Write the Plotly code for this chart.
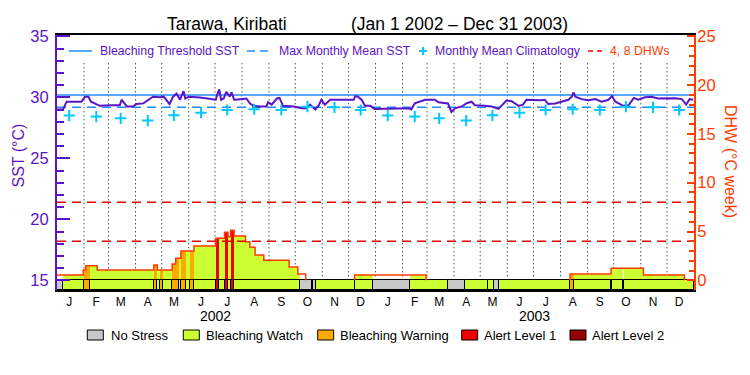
import pandas as pd
import plotly.graph_objects as go

START = pd.Timestamp("2002-01-01")
END = pd.Timestamp("2004-01-01")

# ---------------- data ----------------
# SST (degC): day offset from 2002-01-01 and value
sst_day = [0, 7, 11, 28, 32, 36, 39, 45, 49, 61, 72, 74, 80, 87, 91, 99, 105, 110, 118, 122,
           124, 129, 133, 137, 141, 145, 147, 151, 164, 179, 182, 184, 186, 188, 191, 194, 198, 200, 203, 210,
           217, 221, 225, 233, 240, 242, 246, 252, 255, 259, 271, 280, 286, 290, 296, 300, 303, 307, 313, 340,
           342, 345, 349, 353, 359, 364, 403, 406, 410, 422, 433, 437, 448, 452, 456, 464, 469, 475, 479, 490,
           498, 506, 511, 515, 521, 529, 534, 538, 555, 559, 563, 571, 578, 586, 590, 592, 594, 601, 609, 617,
           624, 632, 636, 640, 649, 655, 661, 666, 674, 681, 689, 697, 708, 716, 721, 725, 729]
sst_val = [29.0, 29.0, 29.64, 29.64, 30.05, 30.05, 29.64, 29.45, 29.3, 29.35, 29.35, 29.8, 29.25, 29.25, 29.45, 29.5, 29.8, 30.05, 30.0, 30.05,
           29.9, 29.45, 30.05, 30.3, 29.8, 30.5, 29.9, 30.05, 29.98, 29.85, 29.8, 30.3, 30.65, 29.8, 29.9, 30.45, 30.05, 30.4, 29.8, 29.85,
           29.9, 29.5, 29.3, 29.25, 29.25, 29.6, 29.4, 29.9, 29.95, 29.3, 29.25, 29.1, 29.1, 29.4, 29.0, 29.35, 29.8, 29.4, 29.8, 29.8,
           30.1, 30.05, 29.8, 29.3, 29.3, 29.05, 29.1, 29.0, 29.5, 29.8, 29.8, 29.6, 29.5, 28.8, 29.1, 29.25, 29.5, 29.64, 29.35, 29.3,
           29.25, 29.05, 29.4, 29.73, 29.68, 29.3, 29.4, 29.8, 29.75, 29.8, 29.45, 29.5, 29.64, 29.8, 30.05, 30.4, 30.05, 29.85, 29.75, 29.85,
           29.64, 29.8, 30.1, 29.64, 29.3, 29.35, 29.95, 29.8, 30.0, 30.05, 29.9, 29.92, 29.92, 29.85, 29.4, 29.85, 29.8]

# Monthly mean climatology (degC), Jan..Dec (same each year)
clim_val = [28.50, 28.42, 28.28, 28.09, 28.52, 28.74, 28.96, 29.02, 28.96, 29.23, 29.18, 28.96]
MMM = 29.18          # maximum monthly mean SST
THRESHOLD = 30.18    # bleaching threshold SST
DHW_MARKS = [4, 8]   # reference DHW levels

# Degree heating weeks: step changes (day offset where value begins)
dhw_day = [0, 30, 33, 46, 111, 115, 132, 136, 142, 157, 182, 192, 196, 199, 203, 216, 221, 227,
           237, 266, 276, 285, 341, 423, 588, 635, 672, 719]
dhw_val = [0.54, 1.05, 1.5, 1.05, 1.56, 1.05, 1.67, 2.25, 3.0, 3.51, 4.3, 4.92, 4.47, 5.12, 4.54, 3.96, 3.38, 2.59,
           2.05, 1.36, 0.65, 0.0, 0.54, 0.0, 0.65, 1.23, 0.54, 0.0]

# Stress level segments (day offset where level begins)
# -1 no data, 0 no stress, 1 watch, 2 warning, 3 alert 1, 4 alert 2
stress_day = [0, 7, 31, 38, 111, 115, 118, 122, 132, 140, 142, 148, 152, 157, 182, 186, 192, 196, 199, 203,
              278, 292, 293, 297, 341, 362, 404, 448, 467, 494, 501, 507, 588, 593, 635, 636, 649, 650]
stress_lvl = [0, 1, 2, 1, 2, 1, 2, 1, 2, 1, 2, 1, 2, 1, 3, 1, 3, 1, 3, 1,
              0, 1, 0, 1, 1, 0, 1, 0, 1, 1, 0, 1, 2, 1, 1, 1, -1, 1]

month_letters = ["J", "F", "M", "A", "M", "J", "J", "A", "S", "O", "N", "D"]
years = [2002, 2003]
stress_names = ["No Stress", "Bleaching Watch", "Bleaching Warning", "Alert Level 1", "Alert Level 2"]

# ---------------- styling ----------------
FONT = "Liberation Sans, Arial, sans-serif"
PURPLE = "#5a14c8"
ORANGE = "#ff3c00"
BLUE = "#1e8cff"
CYAN = "#00c8ff"
RED = "#e60000"
LEVEL_COLORS = {-1: "white", 0: "#c8c8c8", 1: "#ccff33", 2: "#ffaa00", 3: "#f00000", 4: "#960000"}

NDAYS = (END - START).days
Y1MIN, Y1MAX = 14.205, 35.107
Y2MIN, Y2MAX = (Y1MIN - 15) * 1.25, (Y1MAX - 15) * 1.25
MS_DAY = 86400000


def d2t(d):
    return START + pd.Timedelta(days=float(d))


fig = go.Figure()

# dotted month separators
xs, ys = [], []
for m in pd.date_range("2002-02-01", "2003-12-01", freq="MS"):
    xs += [m, m, None]
    ys += [15, 32.8, None]
fig.add_trace(go.Scatter(x=xs, y=ys, mode="lines", hoverinfo="skip",
                         line=dict(color="black", width=1, dash="1px,3px")))

# daily DHW and stress arrays from the step data
dhw_daily, lvl_daily = [], []
for d in range(NDAYS):
    v = [dhw_val[i] for i in range(len(dhw_day)) if dhw_day[i] <= d][-1]
    l = [stress_lvl[i] for i in range(len(stress_day)) if stress_day[i] <= d][-1]
    dhw_daily.append(v)
    lvl_daily.append(l)

# DHW fill coloured by stress level (runs of equal level and value)
fx, fw, fy, fc = [], [], [], []
d = 0
while d < NDAYS:
    e = d
    while e < NDAYS and lvl_daily[e] == lvl_daily[d] and dhw_daily[e] == dhw_daily[d]:
        e += 1
    if lvl_daily[d] >= 1 and dhw_daily[d] > 0:
        fx.append(d2t((d + e) / 2))
        fw.append((e - d) * MS_DAY)
        fy.append(dhw_daily[d])
        fc.append(LEVEL_COLORS[lvl_daily[d]])
    d = e
fig.add_trace(go.Bar(x=fx, y=fy, width=fw, base=0, yaxis="y2", hoverinfo="skip",
                     marker=dict(color=fc, line=dict(width=0))))

# stress band
bx, bw, bc = [], [], []
bounds = stress_day + [NDAYS]
for i, l in enumerate(stress_lvl):
    s, e = bounds[i], bounds[i + 1]
    bx.append(d2t((s + e) / 2))
    bw.append((e - s) * MS_DAY)
    bc.append(LEVEL_COLORS[l])
fig.add_trace(go.Bar(x=bx, y=[0 - Y2MIN] * len(bx), width=bw, base=Y2MIN, yaxis="y2", hoverinfo="skip",
                     marker=dict(color=bc, line=dict(color="black", width=1))))

# DHW step outline (not drawn along zero)
lx, ly = [], []
dbounds = dhw_day + [NDAYS]
for i, v in enumerate(dhw_val):
    s, e = dbounds[i], dbounds[i + 1]
    if v > 0:
        if i > 0 and dhw_val[i - 1] == 0:
            lx.append(d2t(s)); ly.append(0)
        lx += [d2t(s), d2t(e)]
        ly += [v, v]
        if i + 1 < len(dhw_val) and dhw_val[i + 1] == 0:
            lx += [d2t(e), None]; ly += [0, None]
fig.add_trace(go.Scatter(x=lx, y=ly, yaxis="y2", mode="lines", hoverinfo="skip",
                         line=dict(color=ORANGE, width=1.5)))

# DHW reference lines
for v in DHW_MARKS:
    fig.add_trace(go.Scatter(x=[START, END], y=[v, v], yaxis="y2", mode="lines", hoverinfo="skip",
                             line=dict(color=RED, width=1.5, dash="9px,6px")))

# threshold, MMM
fig.add_trace(go.Scatter(x=[START, END], y=[THRESHOLD, THRESHOLD], mode="lines", hoverinfo="skip",
                         line=dict(color=BLUE, width=1.5)))
fig.add_trace(go.Scatter(x=[START, END], y=[MMM, MMM], mode="lines", hoverinfo="skip",
                         line=dict(color=BLUE, width=1.5, dash="9px,6px")))

# SST
fig.add_trace(go.Scatter(x=[d2t(x) for x in sst_day], y=sst_val, mode="lines", hoverinfo="skip",
                         line=dict(color=PURPLE, width=2)))

# climatology
cx, cy = [], []
for y in years:
    for m in range(12):
        cx.append(pd.Timestamp(year=y, month=m + 1, day=15))
        cy.append(clim_val[m])
fig.add_trace(go.Scatter(x=cx, y=cy, mode="markers", hoverinfo="skip",
                         marker=dict(symbol="cross-thin", size=8, line=dict(color=CYAN, width=2))))

# ---------------- layout ----------------
L, R, T, B = 57, 694, 35, 290


def px(x):
    return (x - L) / (R - L)


def py(y):
    return (B - y) / (B - T)


tickvals, ticktext = [], []
for y in years:
    for m in range(12):
        tickvals.append(pd.Timestamp(year=y, month=m + 1, day=15))
        ticktext.append(month_letters[m])

ann = []
shapes = []


def text(x, y, s, size, color, xanchor="left", angle=0):
    ann.append(dict(x=px(x), y=py(y), xref="paper", yref="paper", text=s, showarrow=False,
                    xanchor=xanchor, yanchor="middle", textangle=angle,
                    font=dict(family=FONT, size=size, color=color)))


# title
text(226.5, 24, "Tarawa, Kiribati", 17.5, "black", "center")
text(459.5, 24, "(Jan 1 2002 \u2013 Dec 31 2003)", 17.5, "black", "center")
# axis titles
text(17.5, 156, "SST (\u00b0C)", 16, PURPLE, "center", -90)
text(731, 161, "DHW (\u00b0C week)", 16, ORANGE, "center", 90)
# years
for y in years:
    mid = pd.Timestamp(year=y, month=7, day=2)
    ann.append(dict(x=mid, y=py(316), xref="x", yref="paper", text=str(y), showarrow=False,
                    xanchor="center", yanchor="middle", font=dict(family=FONT, size=14, color="black")))

# top legend
LY = 51
shapes.append(dict(type="line", xref="paper", yref="paper", x0=px(69), x1=px(92), y0=py(LY), y1=py(LY),
                   line=dict(color=BLUE, width=1.5)))
text(98, LY, "Bleaching Threshold SST", 12.3, PURPLE)
shapes.append(dict(type="line", xref="paper", yref="paper", x0=px(247), x1=px(268), y0=py(LY), y1=py(LY),
                   line=dict(color=BLUE, width=1.5, dash="8px,5px")))
text(277, LY, "Max Monthly Mean SST", 12.3, PURPLE)
shapes.append(dict(type="line", xref="paper", yref="paper", x0=px(419), x1=px(427), y0=py(LY), y1=py(LY),
                   line=dict(color=CYAN, width=2)))
shapes.append(dict(type="line", xref="paper", yref="paper", x0=px(423), x1=px(423), y0=py(LY - 4), y1=py(LY + 4),
                   line=dict(color=CYAN, width=2)))
text(433, LY, "Monthly Mean Climatology", 12.3, PURPLE)
shapes.append(dict(type="line", xref="paper", yref="paper", x0=px(588), x1=px(603), y0=py(LY), y1=py(LY),
                   line=dict(color=RED, width=1.5, dash="5px,4px")))
text(608, LY, "4, 8 DHWs", 12.3, ORANGE)

# bottom legend
box_x = [87.3, 183.3, 317.7, 461.7, 570]
lab_x = [109.3, 204.3, 338.3, 482.3, 590]
for i, name in enumerate(stress_names):
    shapes.append(dict(type="rect", xref="paper", yref="paper", x0=px(box_x[i]), x1=px(box_x[i] + 16),
                       y0=py(340), y1=py(330), fillcolor=LEVEL_COLORS[i], line=dict(color="black", width=1)))
    text(lab_x[i], 335.5, name, 13, "black")

fig.update_layout(
    width=750, height=375, margin=dict(l=L, r=750 - R, t=T, b=375 - B),
    plot_bgcolor="white", paper_bgcolor="white", showlegend=False,
    barmode="overlay", bargap=0,
    annotations=ann, shapes=shapes,
    xaxis=dict(type="date", range=[START, END], tickmode="array", tickvals=tickvals, ticktext=ticktext,
               ticks="", showgrid=False, zeroline=False, showline=True, mirror=True,
               linecolor="black", linewidth=2, tickangle=0,
               tickfont=dict(family=FONT, size=12, color="black")),
    yaxis=dict(range=[Y1MIN, Y1MAX], tick0=0, dtick=5, ticks="inside", ticklen=13, tickwidth=2,
               tickcolor=PURPLE, showline=True, linecolor=PURPLE, linewidth=2, showgrid=False,
               zeroline=False, ticklabelstandoff=3, tickfont=dict(family=FONT, size=16.5, color=PURPLE),
               minor=dict(dtick=1, ticks="inside", ticklen=7, tickwidth=2, tickcolor=PURPLE, showgrid=False)),
    yaxis2=dict(range=[Y2MIN, Y2MAX], overlaying="y", side="right", tick0=0, dtick=5, ticks="inside",
                ticklen=7, tickwidth=2, tickcolor=ORANGE, showline=True, linecolor=ORANGE, linewidth=2,
                showgrid=False, zeroline=False, ticklabelstandoff=-2,
                tickfont=dict(family=FONT, size=16.5, color=ORANGE),
                minor=dict(dtick=1, ticks="inside", ticklen=5, tickwidth=2, tickcolor=ORANGE, showgrid=False)),
)

fig.write_html("out.html", config={"displayModeBar": False},
               post_script="document.body.style.margin='0';")
